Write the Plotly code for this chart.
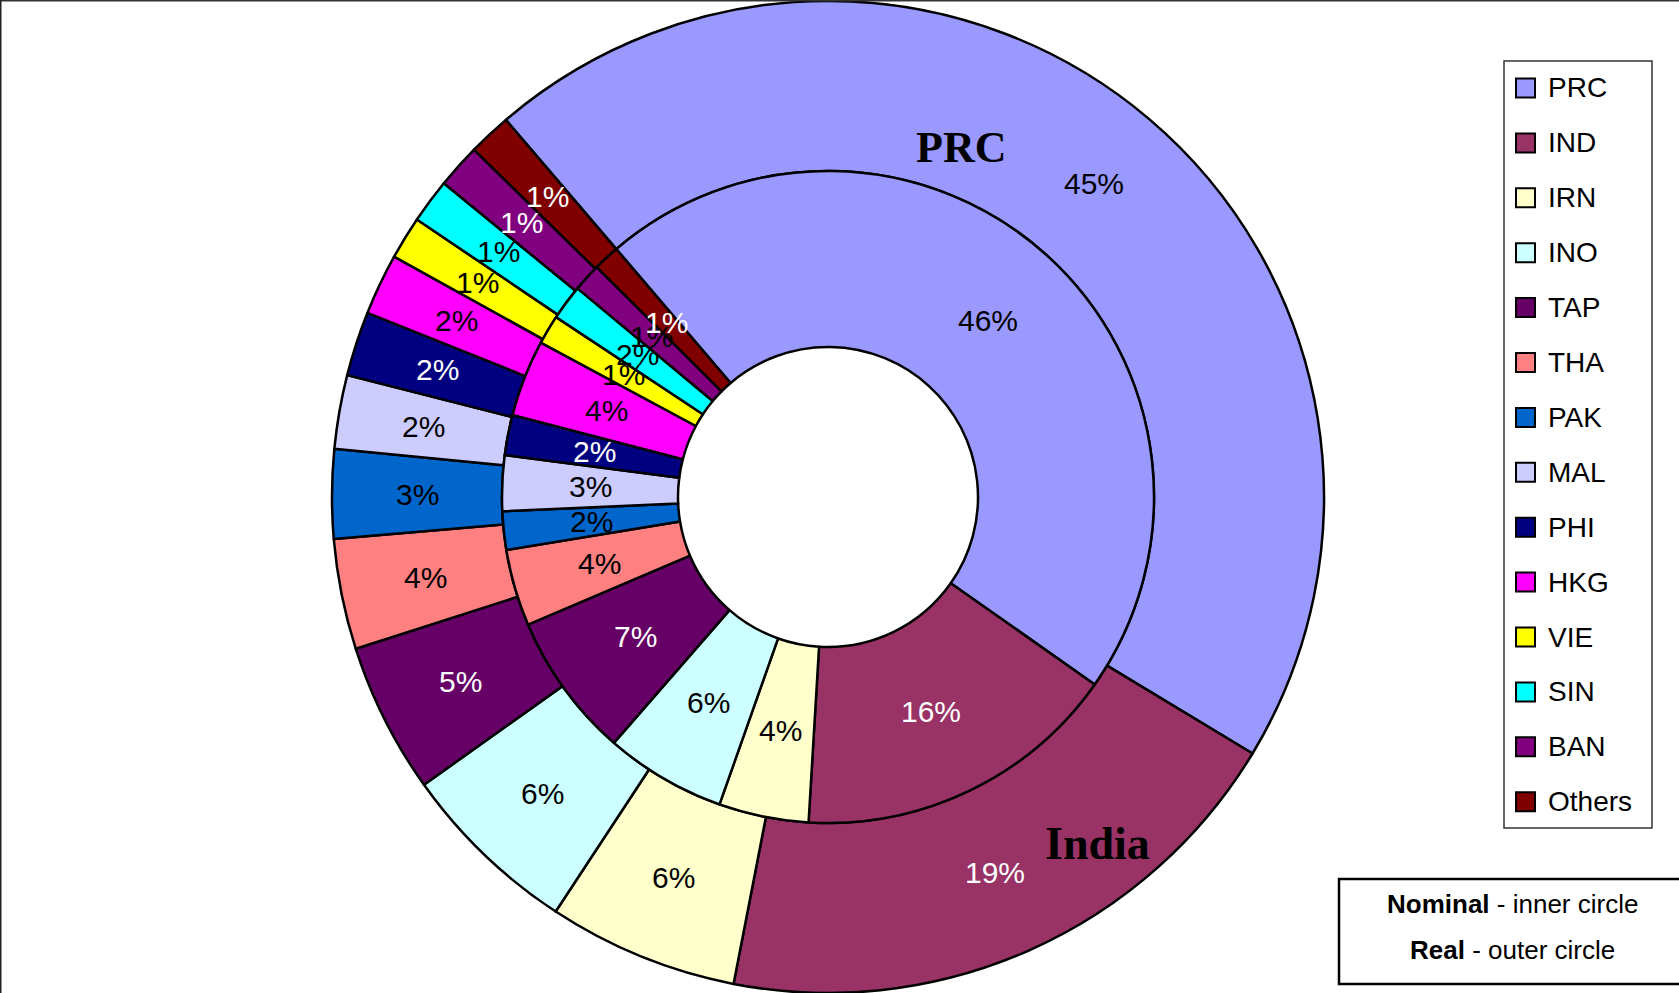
import numpy as np
import plotly.graph_objects as go

# ---------------- data ----------------
countries = ["PRC", "IND", "IRN", "INO", "TAP", "THA", "PAK", "MAL",
             "PHI", "HKG", "VIE", "SIN", "BAN", "Others"]
# Real shares (outer circle), % of total
real_share = [44.9, 19.4, 6.2, 5.9, 4.9, 3.6, 2.9, 2.4,
              2.1, 2.0, 1.4, 1.45, 1.45, 1.4]
# Nominal shares (inner circle), % of total
nominal_share = [46.0, 16.2, 4.45, 6.0, 7.2, 3.8, 1.9, 2.75,
                 2.0, 3.8, 1.45, 1.75, 1.4, 1.3]

slice_colors = ["#9999FF", "#993366", "#FFFFCC", "#CCFFFF", "#660066", "#FF8080",
                "#0066CC", "#CCCCFF", "#000080", "#FF00FF", "#FFFF00", "#00FFFF",
                "#800080", "#800000"]
real_label_colors = ["black", "white", "black", "black", "white", "black", "black",
                     "black", "white", "black", "black", "black", "white", "white"]
nominal_label_colors = ["black", "white", "black", "black", "white", "black", "black",
                        "black", "white", "black", "black", "black", "black", "white"]

# ---------------- layout constants ----------------
W, H = 1679, 993
CX, CY = 828, 497          # ring centre (px, from top-left)
R_OUT, R_MID, R_HOLE = 496, 326, 150
ROT = -40.5                # start angle of first slice (deg, clockwise from 12 o'clock)
LABEL_FONT = "Liberation Sans, Arial, sans-serif"


def px_x(x):
    return x / W


def px_y(y):
    return 1 - y / H


def domain(r):
    return dict(x=[px_x(CX - r), px_x(CX + r)], y=[max(0, px_y(CY + r)), min(1, px_y(CY - r))])


fig = go.Figure()

fig.add_trace(go.Pie(
    labels=countries, values=real_share, name="Real",
    domain=domain(R_OUT), hole=R_MID / R_OUT,
    sort=False, direction="clockwise", rotation=ROT,
    marker=dict(colors=slice_colors, line=dict(color="black", width=2.5)),
    textinfo="none", showlegend=False,
))
fig.add_trace(go.Pie(
    labels=countries, values=nominal_share, name="Nominal",
    domain=domain(R_MID), hole=R_HOLE / R_MID,
    sort=False, direction="clockwise", rotation=ROT,
    marker=dict(colors=slice_colors, line=dict(color="black", width=2.5)),
    textinfo="none", showlegend=False,
))

annotations = []


def add_text(x, y, text, size, color="black", family=LABEL_FONT, xanchor="center"):
    annotations.append(dict(
        x=px_x(x), y=px_y(y), xref="paper", yref="paper",
        text=text, showarrow=False, xanchor=xanchor, yanchor="middle",
        font=dict(family=family, size=size, color=color)))


def ring_labels(values, r_in, r_out, colors):
    v = np.asarray(values, dtype=float)
    total = v.sum()
    before = np.concatenate([[0.0], np.cumsum(v)[:-1]])
    mid = np.deg2rad(ROT + 360.0 * (before + v / 2) / total)
    rm = (r_in + r_out) / 2
    for val, a, c in zip(v, mid, colors):
        add_text(CX + rm * np.sin(a), CY - rm * np.cos(a),
                 f"{100 * val / total:.0f}%", 30, c)


ring_labels(real_share, R_MID, R_OUT, real_label_colors)
ring_labels(nominal_share, R_HOLE, R_MID, nominal_label_colors)

# Big serif captions
SERIF = "Liberation Serif, Times New Roman, serif"
add_text(961, 147, "<b>PRC</b>", 44, family=SERIF)
add_text(1097, 843, "<b>India</b>", 46, family=SERIF)

shapes = []
# manual legend
LEG_X0, LEG_X1, LEG_Y0, LEG_Y1 = 1504, 1652, 61, 828
shapes.append(dict(type="rect", xref="paper", yref="paper",
                   x0=px_x(LEG_X0), x1=px_x(LEG_X1), y0=px_y(LEG_Y1), y1=px_y(LEG_Y0),
                   line=dict(color="#333333", width=1.5), fillcolor="white", layer="below"))
for i, (name, col) in enumerate(zip(countries, slice_colors)):
    yc = 88 + 54.9 * i
    shapes.append(dict(type="rect", xref="paper", yref="paper",
                       x0=px_x(1516), x1=px_x(1535), y0=px_y(yc + 9.5), y1=px_y(yc - 9.5),
                       line=dict(color="black", width=2), fillcolor=col))
    add_text(1546, yc, name, 28, xanchor="left")

# note box
shapes.append(dict(type="rect", xref="paper", yref="paper",
                   x0=px_x(1339), x1=px_x(W + 5), y0=px_y(984), y1=px_y(879),
                   line=dict(color="black", width=2.5), fillcolor="white", layer="below"))
add_text(1512, 904, "<b>Nominal</b> - inner circle", 26)
add_text(1512, 950, "<b>Real</b> - outer circle", 26)

# outer frame (top and left edges)
shapes.append(dict(type="line", xref="paper", yref="paper", x0=0, x1=1, y0=1, y1=1,
                   line=dict(color="#333333", width=3)))
shapes.append(dict(type="line", xref="paper", yref="paper", x0=0, x1=0, y0=0, y1=1,
                   line=dict(color="#222222", width=3)))

fig.update_layout(
    width=W, height=H,
    margin=dict(l=0, r=0, t=0, b=0, pad=0),
    paper_bgcolor="white", plot_bgcolor="white",
    showlegend=False,
    annotations=annotations, shapes=shapes,
)

fig.write_html("out.html",
               config={"displayModeBar": False},
               post_script="document.body.style.margin='0';document.body.style.overflow='hidden';")
